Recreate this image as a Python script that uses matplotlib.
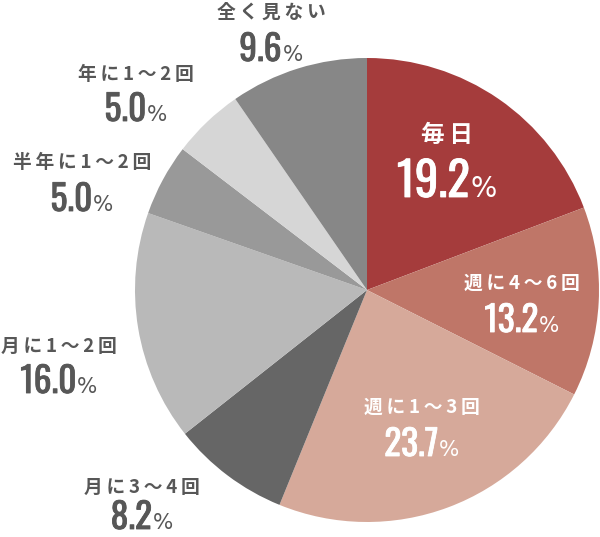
import matplotlib
matplotlib.use("Agg")
import matplotlib.pyplot as plt
import matplotlib.patheffects as pe

categories = ["毎日", "週に4〜6回", "週に1〜3回", "月に3〜4回", "月に1〜2回",
              "半年に1〜2回", "年に1〜2回", "全く見ない"]
values = [19.2, 13.2, 23.7, 8.2, 16.0, 5.0, 5.0, 9.6]
colors = ["#a53c3c", "#bf7668", "#d6a99a", "#666666", "#b9b9b9",
          "#999999", "#d6d6d6", "#878787"]

# label layout in pixels (x centre, name centre y, number baseline y), y from top
label_pos = [(447, 135, 197), (522, 283, 332), (422, 407, 456), (142, 487, 529),
             (59, 346, 393), (82, 162, 211), (136, 74, 121), (271, 12, 61)]
inside = [True, True, True, False, False, False, False, False]

jp = ["Noto Sans CJK JP", "DejaVu Sans"]
num_font = ["Oswald", "DejaVu Sans"]

W, H = 600, 537
fig = plt.figure(figsize=(W / 100, H / 100), dpi=100)
ax = fig.add_axes([0, 0, 1, 1])

ax.pie(values, colors=colors, startangle=90, counterclock=False,
       center=(367, H - 290), radius=232, frame=True,
       wedgeprops=dict(linewidth=0))
ax.set_xlim(0, W)
ax.set_ylim(0, H)
ax.set_aspect("equal")
ax.axis("off")

renderer = fig.canvas.get_renderer()
for i, (cat, val) in enumerate(zip(categories, values)):
    x, y1, y2 = label_pos[i]
    c = "white" if inside[i] else "#575757"
    big = i == 0
    ax.text(x, H - y1, "\u2009".join(cat), ha="center", va="center", color=c,
            fontsize=17 if big else 13.5, fontweight="bold", family=jp)
    fx = [pe.withStroke(linewidth=0.6, foreground=c)]
    t_num = ax.text(0, H - y2, f"{val:.1f}", ha="left", va="baseline", color=c,
                    fontsize=34 if big else 25.5, family=num_font, path_effects=fx)
    t_pct = ax.text(0, H - y2, "%", ha="left", va="baseline", color=c,
                    fontsize=20 if big else 15.5, family="DejaVu Sans")
    w1 = t_num.get_window_extent(renderer).width
    w2 = t_pct.get_window_extent(renderer).width
    x0 = x - (w1 + w2 + 1) / 2
    t_num.set_x(x0)
    t_pct.set_x(x0 + w1 + 1)

fig.savefig("out.png", dpi=100, facecolor="white")
